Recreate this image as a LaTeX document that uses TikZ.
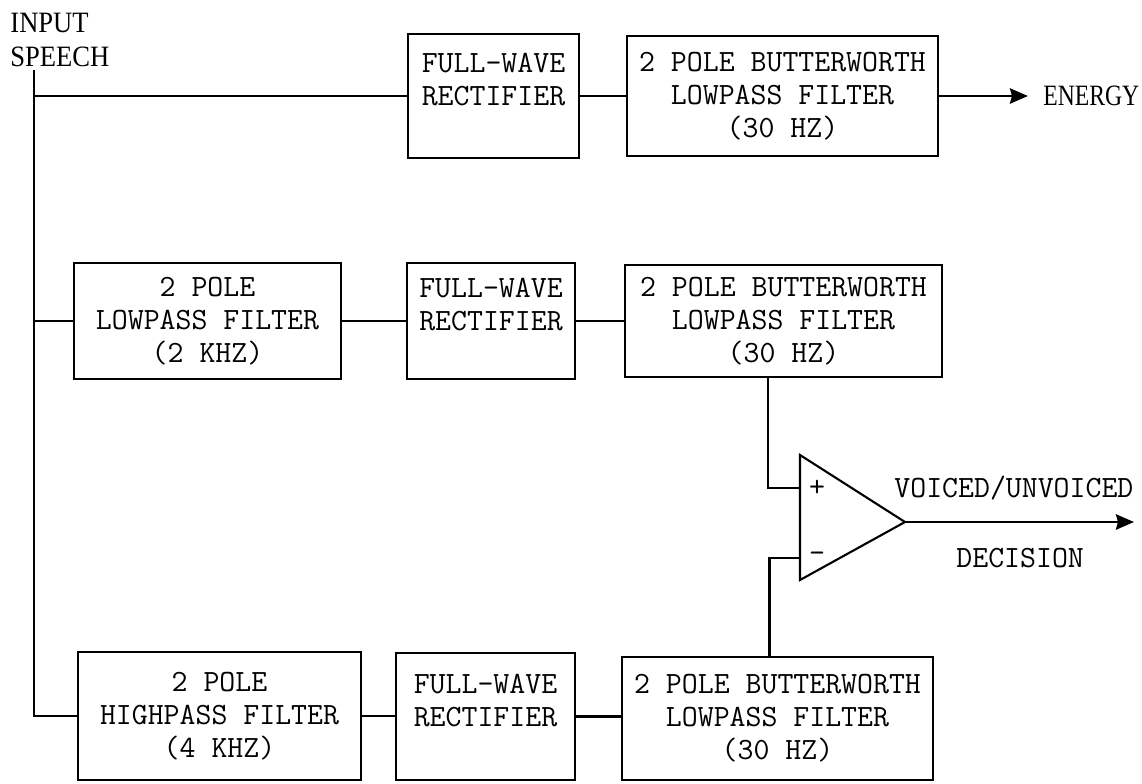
\documentclass[tikz,border=0pt]{standalone}
\usepackage{fontspec}
\newfontfamily\lblfont{Liberation Serif}
\usetikzlibrary{arrows.meta}
\newcommand{\narrow}[2]{\scalebox{#1}[1]{#2}}
\begin{document}
\begin{tikzpicture}[x=0.025cm,y=-0.025cm,line width=2pt,
    >={Stealth[length=4.5mm,width=3.8mm,inset=0.5mm]},
    blk/.style={draw,inner sep=0pt,align=center,font=\ttfamily\fontsize{22}{23.5}\selectfont},
    lbl/.style={inner sep=0pt,font=\lblfont\fontsize{21}{24.2}\selectfont},
    tt/.style={inner sep=0pt,font=\ttfamily\fontsize{22}{23.5}\selectfont}]
  \useasboundingbox (0,0) rectangle (1142,783);
  % input
  \node[lbl,anchor=north west,align=left] (inp) at (9,12) {\narrow{0.9}{INPUT}\\\narrow{0.9}{SPEECH}};
  \coordinate (src) at (34,70);
  % energy path
  \node[blk,minimum width=4.275cm,minimum height=3.1cm] (rect1) at (493.5,96) {FULL-WAVE\\RECTIFIER\\~};
  \node[blk,minimum width=7.775cm,minimum height=3.0cm] (bw1) at (782.5,96) {2 POLE BUTTERWORTH\\LOWPASS FILTER\\(30 HZ)};
  \node[lbl,anchor=west] (energy) at (1042,96) {\narrow{0.8}{ENERGY}};
  % lowpass path
  \node[blk,minimum width=6.675cm,minimum height=2.9cm] (lp) at (207.5,321) {2 POLE\\LOWPASS FILTER\\(2 KHZ)};
  \node[blk,minimum width=4.2cm,minimum height=2.9cm] (rect2) at (491,321) {FULL-WAVE\\RECTIFIER\\~};
  \node[blk,minimum width=7.925cm,minimum height=2.8cm] (bw2) at (783.5,321) {2 POLE BUTTERWORTH\\LOWPASS FILTER\\(30 HZ)};
  % highpass path
  \node[blk,minimum width=7.075cm,minimum height=3.2cm] (hp) at (219.5,716) {2 POLE\\HIGHPASS FILTER\\(4 KHZ)};
  \node[blk,minimum width=4.475cm,minimum height=3.175cm] (rect3) at (485.5,716.5) {FULL-WAVE\\RECTIFIER\\~};
  \node[blk,minimum width=7.775cm,minimum height=3.075cm] (bw3) at (777.5,718.5) {2 POLE BUTTERWORTH\\LOWPASS FILTER\\(30 HZ)};
  % comparator
  \coordinate (plus) at (800,488);
  \coordinate (minus) at (800,558);
  \coordinate (out) at (905,522);
  \draw[line width=1.5pt] (800,455) -- (out) -- (800,580) -- cycle;
  \node[tt] (pl) at (817,488) {+};
  \node[tt] (mi) at (817,557) {-};
  \node[tt,anchor=base west] (vuv) at (893,497) {VOICED/UNVOICED};
  \node[tt,anchor=base west] (dec) at (955,567) {DECISION};
  \coordinate (vuvend) at (1134,522);
  % connectors
  \draw (src) |- (hp.west);
  \draw (src |- rect1.west) -- (rect1.west);
  \draw (src |- lp.west) -- (lp.west);
  \foreach \a/\b in {rect1/bw1,lp/rect2,rect2/bw2,hp/rect3,rect3/bw3}
    \draw (\a.east) -- (\a.east -| \b.west);
  \draw[->,shorten >=3.5mm] (bw1.east) -- (energy.west);
  \draw ([xshift=-3.9mm]bw2.south) |- (plus);
  \draw ([xshift=-2.1mm]bw3.north) |- (minus);
  \draw[->] (out) -- (vuvend);
\end{tikzpicture}
\end{document}
